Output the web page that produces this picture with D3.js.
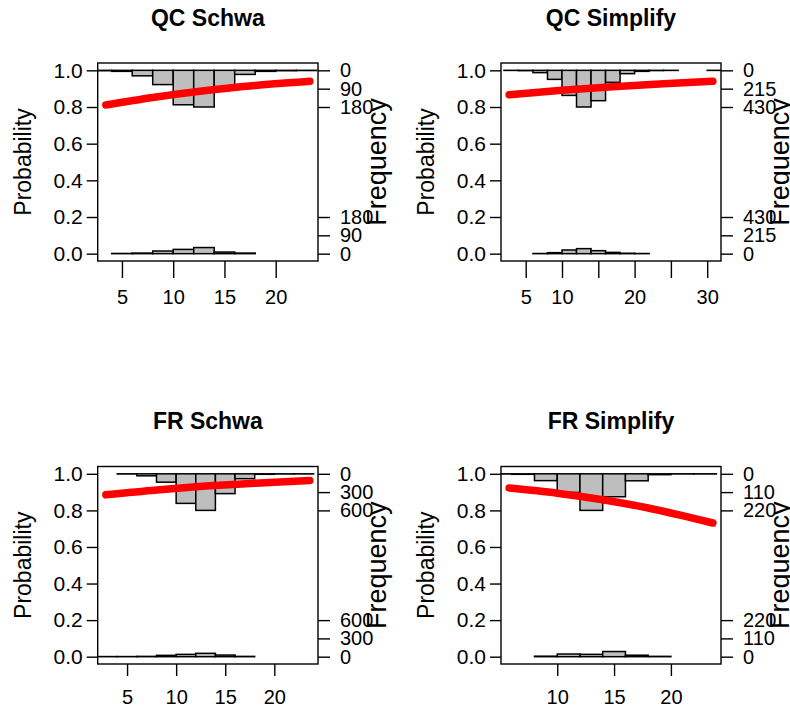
<!DOCTYPE html>
<html><head><meta charset="utf-8">
<script src="https://cdn.jsdelivr.net/npm/d3@7/dist/d3.min.js"></script>
<style>
body{margin:0;background:#fff}
svg{display:block}
text{font-family:"Liberation Sans",Arial,Helvetica,sans-serif;fill:#000}
</style>
</head><body>
<svg id="chart" width="790" height="713"></svg>
<script>
// ---------------- data ----------------
const panelTitles = ["QC Schwa", "QC Simplify", "FR Schwa", "FR Simplify"];
const xTicks = [[5, 10, 15, 20], [5, 10, 15, 20, 25, 30], [5, 10, 15, 20], [10, 15, 20]];
const xTickLabels = [["5", "10", "15", "20"], ["5", "10", "", "20", "", "30"], ["5", "10", "15", "20"], ["10", "15", "20"]];
const xRanges = [[3.43, 23.33], [2.72, 30.78], [2.84, 23.62], [5.77, 23.69]];
const probTicks = [0, 0.2, 0.4, 0.6, 0.8, 1.0];
const probTickLabels = ["0.0", "0.2", "0.4", "0.6", "0.8", "1.0"];
const freqMax = [180, 430, 600, 220];
const freqTickLabels = [["0", "90", "180"], ["0", "215", "430"], ["0", "300", "600"], ["0", "110", "220"]];
const binWidth = 2;
// histogram of outcome = 1 (drawn hanging from the top)
const topStart = [2, 2, 4, 4];
const topCounts = [
  [2, 5, 27, 70, 169, 180, 88, 20, 5, 2, 1],
  [1, 4, 27, 106, 294, 430, 356, 141, 39, 12, 3, 1, 0, 0, 1],
  [3, 33, 137, 485, 600, 325, 80, 8, 3, 2],
  [1, 3, 41, 112, 220, 138, 42, 5, 1, 1]
];
// histogram of outcome = 0 (drawn from the bottom)
const bottomStart = [4, 6, 2, 8];
const bottomCounts = [
  [1, 3, 13, 21, 30, 8, 3],
  [2, 12, 43, 59, 35, 15, 5, 2],
  [2, 2, 5, 22, 38, 55, 27, 5],
  [3, 16, 14, 31, 9, 2]
];
// fitted logistic curve
const fitX = [
  [3.43, 8, 13, 18, 23.33],
  [2.72, 10, 17, 24, 30.78],
  [2.84, 8, 13, 18, 23.62],
  [5.77, 10, 14, 18, 23.69]
];
const fitP = [
  [0.811, 0.852, 0.889, 0.917, 0.940],
  [0.867, 0.891, 0.910, 0.927, 0.940],
  [0.885, 0.912, 0.933, 0.949, 0.963],
  [0.922, 0.894, 0.858, 0.813, 0.731]
];

// ---------------- layout ----------------
const cols = [[97.7, 318], [501, 721]];
const rows = [{y0: 63, y1: 261, tick: 17, lab: 37, title: 18}, {y0: 466.5, y1: 664, tick: 12, lab: 34, title: 421}];

const svg = d3.select("#chart");

panelTitles.forEach((title, i) => {
  const c = cols[i % 2], r = rows[Math.floor(i / 2)];
  const [x0, x1] = c, y0 = r.y0, y1 = r.y1;
  const [dmin, dmax] = xRanges[i];
  const w = dmax - dmin;
  const x = d3.scaleLinear().domain([dmin - 0.04 * w, dmax + 0.04 * w]).range([x0, x1]);
  const y = d3.scaleLinear().domain([-0.04, 1.04]).range([y1, y0]);
  const g = svg.append("g");

  const clipId = "clip" + i;
  g.append("clipPath").attr("id", clipId).append("rect")
    .attr("x", x0).attr("y", y0).attr("width", x1 - x0).attr("height", y1 - y0);
  const plot = g.append("g").attr("clip-path", `url(#${clipId})`);

  const hScale = v => v / freqMax[i] * 0.2;

  // top histogram
  topCounts[i].forEach((cnt, k) => {
    if (cnt <= 0) return;
    const a = topStart[i] + k * binWidth, b = a + binWidth;
    plot.append("rect")
      .attr("x", x(a)).attr("width", x(b) - x(a))
      .attr("y", y(1)).attr("height", y(1 - hScale(cnt)) - y(1))
      .attr("fill", "#bebebe").attr("stroke", "#000").attr("stroke-width", 1.5);
  });
  // bottom histogram
  bottomCounts[i].forEach((cnt, k) => {
    if (cnt <= 0) return;
    const a = bottomStart[i] + k * binWidth, b = a + binWidth;
    plot.append("rect")
      .attr("x", x(a)).attr("width", x(b) - x(a))
      .attr("y", y(hScale(cnt))).attr("height", y(0) - y(hScale(cnt)))
      .attr("fill", "#bebebe").attr("stroke", "#000").attr("stroke-width", 1.5);
  });

  // fitted curve
  const pts = fitX[i].map((v, k) => [v, fitP[i][k]]);
  g.append("path").datum(pts)
    .attr("d", d3.line().x(d => x(d[0])).y(d => y(d[1])).curve(d3.curveMonotoneX))
    .attr("fill", "none").attr("stroke", "#ff0000").attr("stroke-width", 7.5)
    .attr("stroke-linecap", "round").attr("stroke-linejoin", "round");

  // box
  g.append("rect").attr("x", x0).attr("y", y0).attr("width", x1 - x0).attr("height", y1 - y0)
    .attr("fill", "none").attr("stroke", "#000").attr("stroke-width", 1.4);

  // left axis
  const la = g.append("g").attr("transform", `translate(${x0},0)`)
    .call(d3.axisLeft(y).tickValues(probTicks).tickFormat((d, k) => probTickLabels[k]).tickSize(11).tickPadding(4));
  la.select(".domain").remove();
  la.selectAll("line").attr("stroke", "#000").attr("stroke-width", 1.4);
  la.selectAll("text").attr("font-size", 21).attr("font-family", null);

  // bottom axis
  const ba = g.append("g").attr("transform", `translate(0,${y1})`)
    .call(d3.axisBottom(x).tickValues(xTicks[i]).tickFormat((d, k) => xTickLabels[i][k]).tickSize(r.tick).tickPadding(r.lab - r.tick - 8));
  ba.select(".domain").remove();
  ba.selectAll("line").attr("stroke", "#000").attr("stroke-width", 1.4);
  ba.selectAll("text").attr("font-size", 20).attr("font-family", null);

  // right (frequency) axis
  const fTicks = [0, 0.1, 0.2, 0.8, 0.9, 1.0];
  const fLabels = [freqTickLabels[i][0], freqTickLabels[i][1], freqTickLabels[i][2],
                   freqTickLabels[i][2], freqTickLabels[i][1], freqTickLabels[i][0]];
  const ra = g.append("g").attr("transform", `translate(${x1},0)`)
    .call(d3.axisRight(y).tickValues(fTicks).tickFormat((d, k) => fLabels[k]).tickSize(12).tickPadding(10));
  ra.select(".domain").remove();
  ra.selectAll("line").attr("stroke", "#000").attr("stroke-width", 1.4);
  ra.selectAll("text").attr("font-size", 20).attr("font-family", null);

  // labels
  g.append("text").attr("x", (x0 + x1) / 2).attr("y", r.title).attr("text-anchor", "middle")
    .attr("dominant-baseline", "central").attr("font-weight", "bold").attr("font-size", 23).text(title);
  g.append("text").attr("transform", `translate(${x0 - 75},${(y0 + y1) / 2}) rotate(-90)`)
    .attr("text-anchor", "middle").attr("dominant-baseline", "central").attr("font-size", 23).text("Probability");
  g.append("text").attr("transform", `translate(${x1 + 59},${(y0 + y1) / 2}) rotate(-90)`)
    .attr("text-anchor", "middle").attr("dominant-baseline", "central").attr("font-size", 27).text("Frequency");
});
</script>
</body></html>
